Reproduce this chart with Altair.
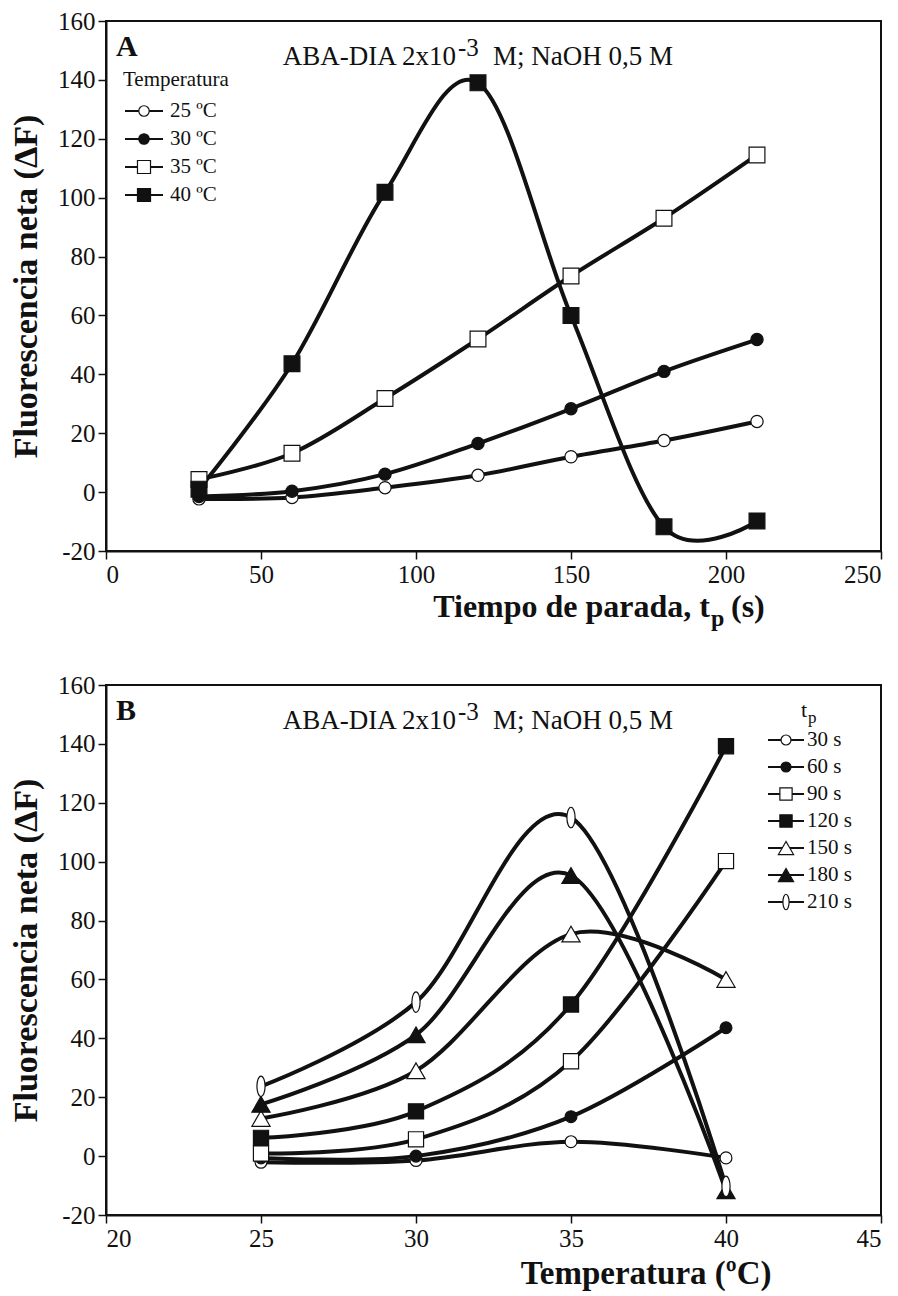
import altair as alt
import pandas as pd

# ---------------- Panel A data: net fluorescence vs stop time, per temperature
tp_s = [30, 60, 90, 120, 150, 180, 210]
temp_labels = ["25 ºC", "30 ºC", "35 ºC", "40 ºC"]
F_25C = [-2.3, -1.8, 1.5, 5.7, 12.0, 17.5, 24.0]
F_30C = [-1.5, 0.3, 6.1, 16.5, 28.3, 41.0, 51.8]
F_35C = [4.3, 13.2, 31.8, 52.0, 73.4, 93.0, 114.5]
F_40C = [1.0, 43.6, 101.8, 139.0, 60.0, -11.8, -9.8]

# ---------------- Panel B data: net fluorescence vs temperature, per stop time
temp_C = [25, 30, 35, 40]
tp_labels = ["30 s", "60 s", "90 s", "120 s", "150 s", "180 s", "210 s"]
F_30s = [-2.1, -1.5, 4.9, -0.6]
F_60s = [-0.6, 0.0, 13.4, 43.6]
F_90s = [0.9, 5.7, 32.2, 100.2]
F_120s = [6.2, 15.2, 51.5, 139.2]
F_150s = [12.8, 29.0, 75.4, 60.0]
F_180s = [17.6, 41.2, 95.3, -11.8]
F_210s = [23.7, 52.3, 115.0, -10.3]

x_ticks_A = [0, 50, 100, 150, 200, 250]
x_ticks_B = [20, 25, 30, 35, 40, 45]
y_ticks = [-20, 0, 20, 40, 60, 80, 100, 120, 140, 160]

# ---------------- styling
SERIF = "Liberation Serif"
INK = "#111111"
W, H = 775, 530
PLAIN = "'' + datum.value"
ELLIPSE = ("M0,-1 C0.22,-1 0.4,-0.55 0.4,0 C0.4,0.55 0.22,1 0,1 "
           "C-0.22,1 -0.4,0.55 -0.4,0 C-0.4,-0.55 -0.22,-1 0,-1 Z")

styleA = {  # shape, fill, data size, legend size
    "25 ºC": ("circle", "white", 150, 110),
    "30 ºC": ("circle", INK, 150, 110),
    "35 ºC": ("square", "white", 250, 170),
    "40 ºC": ("square", INK, 250, 170),
}
styleB = {
    "30 s": ("circle", "white", 140, 100),
    "60 s": ("circle", INK, 140, 100),
    "90 s": ("square", "white", 230, 150),
    "120 s": ("square", INK, 230, 150),
    "150 s": ("triangle-up", "white", 330, 230),
    "180 s": ("triangle-up", INK, 330, 230),
    "210 s": (ELLIPSE, "white", 420, 240),
}

one = pd.DataFrame({"k": [0]})


def long_df(xname, xs, labels, series):
    rows = []
    for lab, vals in zip(labels, series):
        for xv, yv in zip(xs, vals):
            rows.append({xname: xv, "F": yv, "serie": lab})
    return pd.DataFrame(rows)


def text(t, x, y, size, weight="normal", align="left", baseline="alphabetic"):
    return alt.Chart(one).mark_text(
        text=t, font=SERIF, fontSize=size, fontWeight=weight, color=INK,
        align=align, baseline=baseline,
    ).encode(x=alt.value(x), y=alt.value(y))


def legend(labels, style, x0, x1, xm, xl, y0, dy, size):
    layers = []
    for i, lab in enumerate(labels):
        y = y0 + i * dy
        shp, fill, _, lsz = style[lab]
        layers.append(alt.Chart(one).mark_rule(color=INK, strokeWidth=2).encode(
            x=alt.value(x0), x2=alt.value(x1), y=alt.value(y)))
        layers.append(alt.Chart(one).mark_point(
            shape=shp, filled=True, fill=fill, stroke=INK, strokeWidth=1.2,
            opacity=1, size=lsz).encode(x=alt.value(xm), y=alt.value(y)))
        layers.append(text(lab, xl, y, size, baseline="middle"))
    return layers


def panel(df, xname, xdomain, labels, style, xaxis):
    x = alt.X(f"{xname}:Q", scale=alt.Scale(domain=xdomain, nice=False), axis=xaxis)
    y = alt.Y("F:Q", scale=alt.Scale(domain=[-20, 160], nice=False),
              axis=alt.Axis(values=y_ticks, title="Fluorescencia neta (ΔF)",
                            labelFont=SERIF, titleFont=SERIF, labelExpr=PLAIN))
    layers = [
        alt.Chart(df).mark_line(interpolate="cardinal", strokeWidth=4, color=INK,
                                strokeJoin="round", strokeCap="round").encode(
            x=x, y=y, detail="serie:N")
    ]
    for lab in labels:
        shp, fill, sz, _ = style[lab]
        layers.append(alt.Chart(df[df.serie == lab]).mark_point(
            shape=shp, filled=True, fill=fill, stroke=INK, strokeWidth=1.2,
            opacity=1, size=sz).encode(x=x, y=y))
    return layers


def header(letter):
    return [
        text(letter, 10, 35, 30, weight="bold"),
        text("ABA-DIA 2x10", 350, 44, 27, align="right"),
        text("-3", 352, 35, 25),
        text("M; NaOH 0,5 M", 387, 44, 27),
    ]


dfA = long_df("tp", tp_s, temp_labels, [F_25C, F_30C, F_35C, F_40C])
dfB = long_df("T", temp_C, tp_labels,
              [F_30s, F_60s, F_90s, F_120s, F_150s, F_180s, F_210s])

# ---------------- Panel A
axisA = alt.Axis(values=x_ticks_A, title=None, labelFont=SERIF, labelExpr=PLAIN)
layersA = panel(dfA, "tp", [0, 250], temp_labels, styleA, axisA)
layersA += header("A")
layersA += [text("Temperatura", 17, 65, 21)]
layersA += legend(temp_labels, styleA, 19, 57, 38, 64, 90, 28, 21)
layersA += [
    text("Tiempo de parada, t", 604, 596, 32, weight="bold", align="right"),
    text("p", 605, 605, 24, weight="bold"),
    text("(s)", 625, 596, 32, weight="bold"),
]
chartA = alt.layer(*layersA).properties(width=W, height=H)

# ---------------- Panel B
axisB = alt.Axis(values=x_ticks_B, title="Temperatura (ºC)", titleFontSize=33,
                 titleAlign="right", titleX=665, titleY=68,
                 titleBaseline="alphabetic", labelFont=SERIF, titleFont=SERIF,
                 labelExpr=PLAIN)
layersB = panel(dfB, "T", [20, 45], tp_labels, styleB, axisB)
layersB += header("B")
layersB += [text("t", 695, 32, 22), text("p", 702, 38, 17)]
layersB += legend(tp_labels, styleB, 662, 698, 680, 701, 55, 27, 21)
chartB = alt.layer(*layersB).properties(width=W, height=H)

chart = alt.vconcat(chartA, chartB, spacing=40).properties(
    padding={"left": 0, "top": 0, "right": 0, "bottom": 0}
).configure_axis(
    labelFont=SERIF, labelFontSize=25, labelColor=INK, labelPadding=3,
    tickColor=INK, tickSize=8, tickWidth=1.5,
    domainColor=INK, domainWidth=2, grid=False,
    titleFont=SERIF, titleFontSize=34, titleFontWeight="bold", titleColor=INK,
    titlePadding=14,
).configure_view(stroke=INK, strokeWidth=2)

chart.save("out.html", embed_options={"renderer": "svg", "actions": False})
